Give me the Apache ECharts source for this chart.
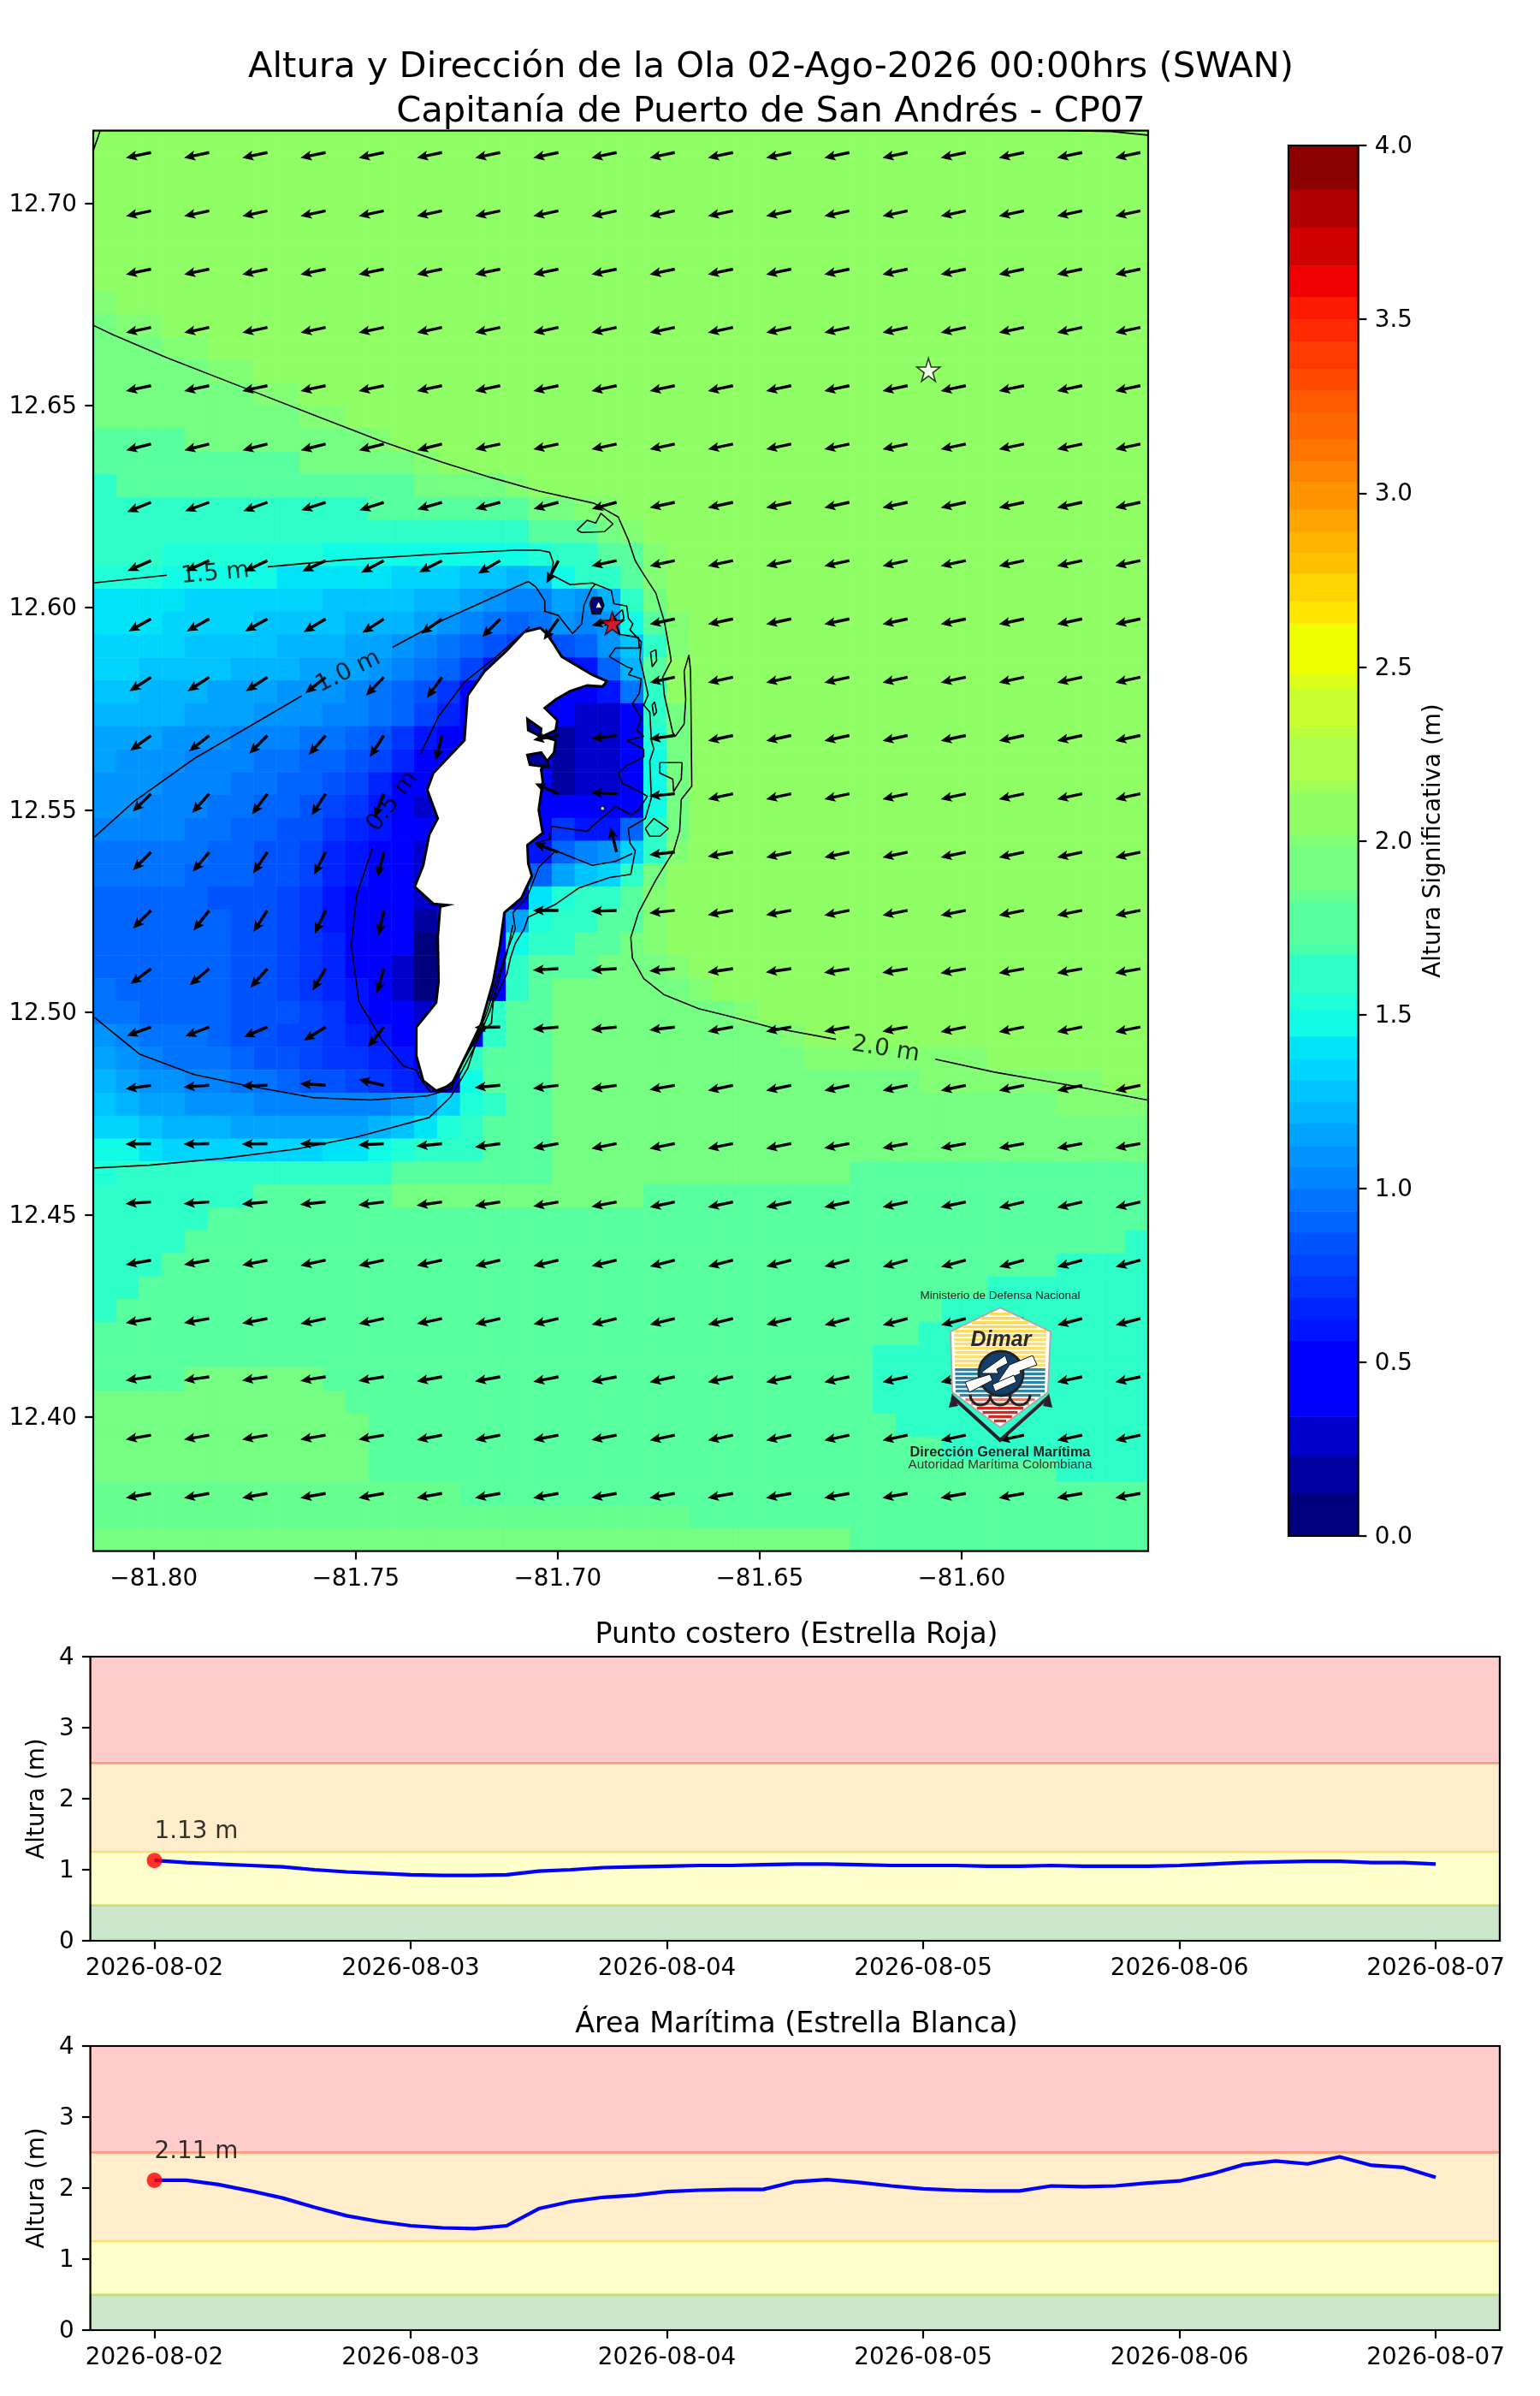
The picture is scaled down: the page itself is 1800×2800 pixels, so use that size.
<!DOCTYPE html>
<html><head><meta charset="utf-8">
<style>html,body{margin:0;padding:0;background:#fff}#c{width:1800px;height:2800px}</style>
<script src="https://cdn.jsdelivr.net/npm/echarts@6/dist/echarts.min.js"></script>
</head><body><div id="c"></div>
<script>
// ---------- colour scale of significant wave height (m) ----------
const levelLimits=[0,.124,.233,.344,.563,.624,.687,.749,.81,.874,.935,1,1.061,1.123,1.187,1.248,1.312,1.374,1.438,1.514,1.562,1.672,1.703,1.828,1.859,1.985,2.017,2.139,2.172,2.298,2.328,2.44,2.483,2.626,2.69,2.77,2.83,2.89,2.955,3.032,3.093,3.155,3.233,3.297,3.359,3.438,3.5,3.564,3.655,3.765,3.875,4];
const levelColors=['#00007f','#0000a0','#0000cc','#0000ff','#0014ff','#0024ff','#0034ff','#0044ff','#0054ff','#0064ff','#0074ff','#0084ff','#0094ff','#00a4ff','#00b4ff','#00c4ff','#00d4ff','#00e4f8','#10fce7','#1fffd8','#2effc8','#4affac','#58ff9e','#66ff90','#74ff82','#82ff74','#90ff66','#9eff58','#acff4a','#baff3a','#c8ff2e','#dcff1a','#f0ff00','#ffe600','#ffd400','#ffc000','#ffb400','#ffa400','#ff9400','#ff8400','#ff7600','#ff6800','#ff5a00','#ff4a00','#ff3a00','#ff2a00','#ff1a00','#f00000','#d00000','#b00000','#8b0000'];
const levelLetters='abcdefghijklmnopqrstuvwxyzA';
const heightRuns=[
"A46","A46","A46","A46","A46","A46","A46","z1 A45","y1 z2 A43","y3 z2 A41","y5 z2 A39","y7 z2 A37","y9 z2 A35",
"w4 y8 z1 A33","w9 y5 z1 A31","u1 w13 y4 z1 A27","u12 w7 y2 z2 A23","u19 w3 y1 z1 A22",
"u3 t7 s9 t1 u2 w2 z1 A21","t3 s5 r5 q3 p2 o1 p1 s1 u2 w1 z1 A21","r4 q6 p4 o2 n1 m1 l2 n1 m1 o1 u1 y1 A21",
"r3 q4 p4 o3 n1 m1 l1 k1 j1 k1 m1 l1 m1 s1 w1 z1 A20","q4 p4 o3 n2 m1 l1 k1 j1 i1 h1 d1 i1 j1 m1 p1 u1 z1 A20",
"q2 p4 o3 n3 m1 l1 k1 j1 h1 e1 d3 e1 j1 o1 w1 A21","p2 o3 n3 m3 l1 k1 j1 i1 g1 d6 e1 k1 u1 A21",
"o4 n3 m3 l2 k1 j1 h1 f1 d5 c2 d1 u1 y1 A20","n3 m3 l3 k2 j1 i1 g1 e1 d5 b1 c2 d1 t1 y1 A20",
"n1 m3 l3 k2 j2 i1 h1 f1 d6 b1 c2 d1 s1 y1 A20","m3 l3 k2 j2 i1 h1 f1 d7 b1 c2 d1 s1 y1 A20",
"m2 l3 k2 j2 i1 h1 g1 e1 d1 c1 d5 d4 s1 y1 A20","l4 k2 j2 i2 g1 f1 e1 d7 g1 e2 j1 u1 y1 A20",
"k5 j2 i2 h1 f1 e1 d2 c1 d4 e1 j1 l1 m1 q1 u1 z1 A20","k4 j3 i2 h1 f1 e1 d2 c1 d4 j1 n1 p1 q1 u1 y1 A21",
"j5 i3 h1 g1 e1 d3 c1 d4 r1 t1 u2 w1 z1 A21","j6 i2 h1 g1 e1 d3 b1 d3 n1 t1 u2 w2 z1 A21",
"j6 i2 h1 g1 f1 d3 a1 d3 s1 u2 w2 y1 z1 A21","j6 i2 h1 g1 f1 d2 c1 a1 d3 u1 w3 y3 z1 A20",
"k1 j5 i2 h1 g1 f1 e1 d1 c1 a1 d3 u1 w1 y6 z1 A19","k2 j4 i3 h1 g1 e1 d2 c1 d2 u1 w2 y8 z1 A17",
"m1 l1 k3 j1 i2 h2 g1 f1 e1 d4 u1 w2 y10 z1 A15","n1 m1 l1 k3 j1 i2 h1 g2 f1 e1 d2 u1 w3 y11 z8 A7",
"o1 n1 m2 l2 k2 j1 i2 h1 g1 f1 e1 c1 s1 w3 y16 z8 A2","p1 o1 n2 m3 l6 m1 n1 q1 t1 u1 w2 y22 z4",
"q2 p1 o3 n6 o1 p1 r1 t1 u1 w3 y26","s2 r1 q7 r2 s1 t1 u3 w3 y26","t1 u12 w7 y13 w13","u7 w6 y11 w22","u5 w41",
"u4 w41 u1","u3 w39 u4","u2 w37 u7","u1 w36 u9","w36 u10","w34 u12","w4 y6 w24 u12","y11 w23 u12","y12 w23 u11",
"y12 w25 u9","y12 w30 u4","x16 w30","x26 w20","y33 w13"];
// ---------- map extents and ticks ----------
const lonMin=-81.8150, lonMax=-81.5538, latMin=12.3668, latMax=12.7179;
const lonTicks=[-81.80,-81.75,-81.70,-81.65,-81.60];
const latTicks=[12.40,12.45,12.50,12.55,12.60,12.65,12.70];
// ---------- contours (lon, lat) ----------
const contour20a=[[-81.815,12.6698],[-81.8102,12.6675],[-81.7968,12.6618],[-81.7773,12.6542],[-81.7604,12.6476],[-81.7433,12.641],[-81.7287,12.636],[-81.7166,12.6322],[-81.7045,12.6288],[-81.691,12.6258],[-81.685,12.6224],[-81.6825,12.6167],[-81.6808,12.6116],[-81.6787,12.6082],[-81.6757,12.6036],[-81.6736,12.5966],[-81.6723,12.5894],[-81.6719,12.5869],[-81.674,12.5828],[-81.6736,12.5784],[-81.6715,12.5691],[-81.6709,12.5682],[-81.6687,12.5712],[-81.6683,12.5773],[-81.6687,12.5843],[-81.6675,12.5883],[-81.6671,12.5843],[-81.6668,12.5559],[-81.6694,12.5526],[-81.6698,12.5449],[-81.6713,12.5398],[-81.6757,12.5327],[-81.68,12.5246],[-81.6819,12.5185],[-81.6815,12.5134],[-81.6787,12.5083],[-81.6736,12.5043],[-81.6651,12.5009],[-81.6582,12.4992],[-81.6472,12.4963],[-81.6311,12.4933]];
const contour20b=[[-81.6065,12.4884],[-81.5919,12.4852],[-81.5741,12.4821],[-81.554,12.4783]];
const contour20c=[[-81.8133,12.7179],[-81.814,12.7158],[-81.815,12.713]];
const contour20d=[[-81.5735,12.7179],[-81.5629,12.7177],[-81.554,12.7168]];
const shoal1=[[-81.6952,12.6192],[-81.6927,12.6216],[-81.6906,12.6209],[-81.6893,12.6233],[-81.6863,12.6207],[-81.6884,12.6188],[-81.6941,12.6186],[-81.6952,12.6192]];
const shoal2=[[-81.677,12.589],[-81.6757,12.5896],[-81.6755,12.5869],[-81.6766,12.5854],[-81.677,12.589]];
const shoal3=[[-81.6766,12.5759],[-81.676,12.5767],[-81.6755,12.5742],[-81.6762,12.5733],[-81.6766,12.5759]];
const shoal4=[[-81.6747,12.5617],[-81.6692,12.5617],[-81.6694,12.5576],[-81.6713,12.5545],[-81.6715,12.5576],[-81.6747,12.5591],[-81.6747,12.5617]];
const shoal5=[[-81.6783,12.5454],[-81.6762,12.5479],[-81.6726,12.5454],[-81.6747,12.5435],[-81.6772,12.5435],[-81.6783,12.5454]];
const contour15a=[[-81.815,12.6061],[-81.7968,12.608]];
const contour15b=[[-81.7718,12.6101],[-81.753,12.6118],[-81.7287,12.6133],[-81.7105,12.6142],[-81.7045,12.6142],[-81.702,12.6137],[-81.7011,12.6112],[-81.7016,12.6082],[-81.7005,12.6076],[-81.6969,12.6057],[-81.6914,12.6061],[-81.6867,12.6042],[-81.6861,12.601],[-81.6829,12.6004],[-81.6825,12.5974],[-81.6814,12.596],[-81.6821,12.5945],[-81.6793,12.5915],[-81.6797,12.5875],[-81.6789,12.5843],[-81.6776,12.5784],[-81.6787,12.5759],[-81.6772,12.5742],[-81.6768,12.5672],[-81.6762,12.5651],[-81.6772,12.5621],[-81.6768,12.553],[-81.6783,12.5479],[-81.6825,12.5454],[-81.6821,12.5418],[-81.6808,12.5399],[-81.6819,12.5341],[-81.6872,12.5333],[-81.6948,12.5307],[-81.7005,12.5267],[-81.7073,12.5235],[-81.7083,12.5206],[-81.7105,12.517],[-81.7117,12.5134],[-81.7126,12.5094],[-81.716,12.5024],[-81.7164,12.4973],[-81.7196,12.4943],[-81.7223,12.4861],[-81.7265,12.4791],[-81.7318,12.474],[-81.7403,12.4717],[-81.75,12.4691],[-81.7646,12.4662],[-81.7829,12.4639],[-81.8011,12.4622],[-81.815,12.4615]];
const contour10a=[[-81.8148,12.5432],[-81.8049,12.5521],[-81.79,12.5627],[-81.774,12.572],[-81.7634,12.5782]];
const contour10b=[[-81.7409,12.5902],[-81.7287,12.5968],[-81.7073,12.6065],[-81.7054,12.6051],[-81.7032,12.6017],[-81.7032,12.5991],[-81.6999,12.5981],[-81.6978,12.5955],[-81.6963,12.5936],[-81.6941,12.5959],[-81.6935,12.6006],[-81.6916,12.6048],[-81.6906,12.6059]];
const contour10c=[[-81.6884,12.5955],[-81.684,12.5995],[-81.6836,12.5974],[-81.6853,12.5955],[-81.6846,12.5934],[-81.68,12.5926],[-81.6798,12.59],[-81.6857,12.59],[-81.6872,12.5879],[-81.6829,12.5854],[-81.6815,12.5849],[-81.6825,12.5835],[-81.6793,12.5824],[-81.6798,12.5788],[-81.6815,12.5763],[-81.6793,12.5727],[-81.6804,12.5697],[-81.6787,12.5682],[-81.6829,12.5672],[-81.6787,12.565],[-81.6787,12.5631],[-81.6829,12.561],[-81.685,12.5591],[-81.684,12.5566],[-81.6808,12.5551],[-81.6778,12.5534],[-81.68,12.55],[-81.6819,12.5488],[-81.6857,12.5509],[-81.6914,12.546],[-81.6927,12.5447],[-81.7016,12.546],[-81.702,12.5428],[-81.7054,12.5418]];
const contour10d=[[-81.7005,12.5399],[-81.6914,12.5363],[-81.6857,12.5373],[-81.6815,12.5392]];
const contour10e=[[-81.7005,12.5399],[-81.7047,12.5358],[-81.7075,12.5286],[-81.7111,12.5246],[-81.7105,12.5206],[-81.7132,12.5134],[-81.7153,12.5075],[-81.7174,12.5003],[-81.7202,12.4933],[-81.7244,12.4861],[-81.7265,12.481],[-81.7323,12.4793],[-81.7464,12.4783],[-81.7604,12.4789],[-81.7782,12.4821],[-81.79,12.4846],[-81.8036,12.4897],[-81.8148,12.4988]];
const contour05a=[[-81.7069,12.5953],[-81.7147,12.5883],[-81.7231,12.5816],[-81.7295,12.5731],[-81.734,12.5638]];
const contour05b=[[-81.7458,12.5407],[-81.7498,12.5289],[-81.7511,12.5164],[-81.7492,12.5026],[-81.7435,12.4931],[-81.7382,12.4867],[-81.735,12.4857],[-81.7337,12.4831],[-81.7316,12.4804],[-81.7259,12.481]];
const contour05c=[[-81.7111,12.5216],[-81.7126,12.5145],[-81.7147,12.5075],[-81.7168,12.5003],[-81.7202,12.4922],[-81.7244,12.4842],[-81.728,12.4814]];
const contourLines=[contour20a,contour20b,contour20c,contour20d,shoal1,shoal2,shoal3,shoal4,shoal5,contour15a,contour15b,contour10a,contour10b,contour10c,contour10d,contour10e,contour05a,contour05b,contour05c];
const contourLabelText=['1.5 m','1.0 m','0.5 m','2.0 m'];
const contourLabelLon=[-81.7848,-81.7519,-81.7409,-81.6188];
const contourLabelLat=[12.6084,12.5842,12.5521,12.4908];
const contourLabelTilt=[5,26,53,-9];
// ---------- land ----------
const island=[[-81.7043,12.595],[-81.7026,12.5934],[-81.7009,12.5909],[-81.699,12.5879],[-81.6948,12.5854],[-81.6914,12.5834],[-81.6878,12.5818],[-81.6889,12.5805],[-81.6927,12.5808],[-81.6969,12.5794],[-81.7005,12.5773],[-81.7032,12.5752],[-81.7001,12.5722],[-81.7005,12.5697],[-81.7037,12.5682],[-81.7005,12.5672],[-81.7009,12.5642],[-81.7026,12.5621],[-81.7041,12.56],[-81.7037,12.557],[-81.7047,12.55],[-81.7037,12.5443],[-81.7075,12.5413],[-81.7073,12.5368],[-81.7064,12.5337],[-81.709,12.5282],[-81.7132,12.5246],[-81.7143,12.5166],[-81.716,12.5075],[-81.7189,12.4973],[-81.7223,12.4902],[-81.7263,12.4821],[-81.7301,12.4806],[-81.7333,12.4831],[-81.735,12.4892],[-81.735,12.4963],[-81.7301,12.5024],[-81.7295,12.5075],[-81.7297,12.5185],[-81.7291,12.5261],[-81.7274,12.5265],[-81.7308,12.5268],[-81.7354,12.531],[-81.7333,12.5363],[-81.7318,12.5439],[-81.7297,12.5479],[-81.7323,12.555],[-81.7308,12.5591],[-81.7231,12.5672],[-81.7223,12.5783],[-81.7181,12.5843],[-81.7126,12.5894],[-81.7083,12.594]];
const lagoonNorth=[[-81.7075,12.5725],[-81.7041,12.5701],[-81.7043,12.5682],[-81.7073,12.5697]];
const lagoonSouth=[[-81.7075,12.5636],[-81.7041,12.5642],[-81.7026,12.5621],[-81.7022,12.5606],[-81.7069,12.5612]];
const reefRing=[[-81.692,12.601],[-81.6914,12.6025],[-81.6893,12.6025],[-81.6886,12.6006],[-81.6895,12.5985],[-81.6914,12.5985]];
const reefCay=[[-81.6906,12.6],[-81.6899,12.6015],[-81.6891,12.6]];
const bayCay=[-81.6889,12.5504];
// ---------- markers ----------
const redStar=[-81.6865,12.5962];
const whiteStar=[-81.6082,12.6588];
// ---------- wave direction: degrees below due west, one row per arrow row, null over land ----------
const arrowFirstLon=-81.8007, arrowFirstLat=12.7125, arrowStep=0.01441;
const arrowAngles=[
[12,12,12,12,12,12,12,12,12,12,12,12,12,12,12,12,12,12],
[12,12,12,12,12,12,12,12,12,12,12,12,12,12,12,12,12,12],
[12,12,12,12,12,12,12,12,12,12,12,12,12,12,12,12,12,12],
[12,12,12,12,12,12,12,12,12,12,12,12,12,12,12,12,12,12],
[12,12,12,12,12,12,12,12,12,12,12,12,12,12,12,12,12,12],
[14,14,14,14,14,14,12,12,12,12,12,12,12,12,12,12,12,12],
[22,20,20,18,18,16,15,15,15,12,12,12,12,12,12,12,12,12],
[24,24,25,25,28,27,30,62,12,12,12,12,12,12,12,12,12,12],
[29,29,29,31,33,35,45,55,15,12,12,12,12,12,12,12,12,12],
[33,33,33,38,46,54,null,null,null,12,12,12,12,12,12,12,12,12],
[36,38,45,49,57,76,null,10,7,8,12,12,12,12,12,12,12,12],
[44,48,53,57,69,null,null,-24,-3,5,12,12,12,12,12,12,12,12],
[45,50,56,63,76,null,null,-20,-76,6,10,12,12,12,12,12,12,12],
[45,52,57,65,78,null,null,0,2,6,10,10,11,11,11,11,11,11],
[37,40,48,59,74,null,null,3,3,5,8,8,9,9,10,10,10,10],
[20,21,23,32,52,null,1,5,6,7,10,10,10,10,11,11,11,11],
[8,4,1,-4,-13,null,5,7,8,10,12,12,12,12,12,12,12,12],
[1,1,1,0,3,6,8,10,11,11,11,11,10,10,10,10,10,10],
[4,4,5,6,7,8,9,10,11,12,12,12,12,12,12,13,13,13],
[10,10,11,12,12,12,13,13,13,14,14,14,14,15,15,15,15,15],
[10,10,11,12,12,12,13,13,14,14,14,14,15,15,15,15,15,15],
[8,8,8,9,9,10,10,11,11,12,12,12,12,12,12,12,12,12],
[10,10,10,10,10,11,11,11,11,12,12,12,12,12,12,12,12,12],
[10,10,10,10,10,10,10,10,10,10,10,10,10,10,10,10,10,10]];
// ---------- time series (x in days since 2026-08-02, 3-hourly) ----------
const dayLabels=['2026-08-02','2026-08-03','2026-08-04','2026-08-05','2026-08-06','2026-08-07'];
const dayTicks=[0,1,2,3,4,5];
const coastValues=[1.13,1.10,1.08,1.06,1.04,1.00,.97,.95,.93,.92,.92,.93,.98,1.00,1.03,1.04,1.05,1.06,1.06,1.07,1.08,1.08,1.07,1.06,1.06,1.06,1.05,1.05,1.06,1.05,1.05,1.05,1.06,1.08,1.10,1.11,1.12,1.12,1.10,1.10,1.08];
const openValues=[2.11,2.11,2.05,1.96,1.86,1.73,1.61,1.53,1.47,1.44,1.43,1.47,1.71,1.81,1.87,1.90,1.95,1.97,1.98,1.98,2.09,2.12,2.08,2.03,1.99,1.97,1.96,1.96,2.03,2.02,2.03,2.07,2.10,2.20,2.33,2.38,2.34,2.44,2.32,2.29,2.15];
const riskLimits=[0,.5,1.25,2.5,4];
const riskColors=['0,128,0','255,255,0','255,165,0','255,0,0'];
const font='"DejaVu Sans"';

// ---------- build ----------
const heatRows=heightRuns.map(r=>{let s='';r.split(' ').forEach(t=>{s+=t[0].repeat(+t.slice(1));});return s;});
const nCols=46,nRows=heatRows.length;
const heatData=[];
heatRows.forEach((row,j)=>{for(let i=0;i<nCols;i++){const k=levelLetters.indexOf(row[i]);heatData.push([i,j,(levelLimits[k]+levelLimits[k+1])/2]);}});
const pieces=levelColors.map((c,i)=>({min:levelLimits[i],max:levelLimits[i+1],color:c}));
const arrowData=[];
arrowAngles.forEach((row,j)=>row.forEach((a,i)=>{if(a!==null)arrowData.push([arrowFirstLon+i*arrowStep,arrowFirstLat-j*arrowStep,a]);}));
const times=coastValues.map((_,i)=>i/8);

function polySeries(points,fill,stroke,lw,z){
  return {type:'custom',coordinateSystem:'cartesian2d',xAxisIndex:1,yAxisIndex:1,z,silent:true,clip:true,
    data:points,encode:{x:0,y:1},
    renderItem:(p,api)=>{ if(p.dataIndex!==0) return null;
      return {type:'polygon',shape:{points:points.map(q=>api.coord(q))},style:{fill,stroke,lineWidth:lw}}; }};
}
const starPath='path://M50 0 L61 35 L98 35 L68 57 L79 91 L50 70 L21 91 L32 57 L2 35 L39 35 Z';
const series=[];
series.push({type:'heatmap',xAxisIndex:0,yAxisIndex:0,data:heatData,z:1,silent:true,progressive:0,emphasis:{disabled:true}});
series.push(polySeries(island,'#ffffff','#000000',3,2));
series.push(polySeries(lagoonNorth,'#0000a0','#000000',3,3));
series.push(polySeries(lagoonSouth,'#0000a0','#000000',3,3));
series.push(polySeries(reefRing,'#00007f','#000000',2,3));
series.push(polySeries(reefCay,'#ffffff','#000000',.5,3));
contourLines.forEach(l=>series.push({type:'line',xAxisIndex:1,yAxisIndex:1,data:l,showSymbol:false,symbol:'none',silent:true,z:4,clip:true,lineStyle:{color:'#000',width:1.6}}));
series.push({type:'scatter',xAxisIndex:1,yAxisIndex:1,z:4,silent:true,symbol:'circle',symbolSize:5,data:[bayCay],itemStyle:{color:'#fff',borderColor:'#000',borderWidth:1.5}});
series.push({type:'custom',coordinateSystem:'cartesian2d',xAxisIndex:1,yAxisIndex:1,z:5,silent:true,clip:true,data:arrowData,encode:{x:0,y:1},
  renderItem:(p,api)=>{
    const t=api.coord([api.value(0),api.value(1)]),a=api.value(2)*Math.PI/180;
    const ux=-Math.cos(a),uy=Math.sin(a),nx=-uy,ny=ux;
    const L=30,H=13,HA=11,W=1.7,HW=5.8;
    const pt=(s,n)=>[t[0]+ux*s+nx*n,t[1]+uy*s+ny*n];
    return {type:'polygon',shape:{points:[pt(0,W),pt(L-HA,W),pt(L-H,HW),pt(L,0),pt(L-H,-HW),pt(L-HA,-W),pt(0,-W)]},style:{fill:'#000'}};
  }});
series.push({type:'scatter',xAxisIndex:1,yAxisIndex:1,z:6,silent:true,symbolSize:1,itemStyle:{color:'rgba(0,0,0,0)'},
  data:contourLabelText.map((t,i)=>({value:[contourLabelLon[i],contourLabelLat[i]],label:{show:true,formatter:t,rotate:contourLabelTilt[i],position:'inside',align:'center',verticalAlign:'middle',fontFamily:font,fontSize:27.8,color:'#000'}}))});
series.push({type:'scatter',xAxisIndex:1,yAxisIndex:1,z:7,silent:true,symbol:starPath,symbolSize:27,data:[redStar],itemStyle:{color:'#ff0000',borderColor:'#000',borderWidth:1.5}});
series.push({type:'scatter',xAxisIndex:1,yAxisIndex:1,z:7,silent:true,symbol:starPath,symbolSize:27,data:[whiteStar],itemStyle:{color:'#ffffff',borderColor:'#000',borderWidth:1.5}});
// colour bar
const colorbarData=levelColors.map((c,i)=>[levelLimits[i],levelLimits[i+1],i]);
series.push({type:'custom',coordinateSystem:'cartesian2d',xAxisIndex:4,yAxisIndex:4,z:2,silent:true,clip:true,data:colorbarData,encode:{y:[0,1]},
  renderItem:(p,api)=>{
    const a=api.coord([0,api.value(0)]),b=api.coord([1,api.value(1)]);
    return {type:'rect',shape:{x:a[0],y:b[1],width:b[0]-a[0],height:a[1]-b[1]+.6},style:{fill:levelColors[api.value(2)]}};
  }});
// two time-series panels
function panel(values,axis){
  const bands=riskColors.map((c,i)=>[
    {yAxis:riskLimits[i],itemStyle:{color:'rgba('+c+',0.2)',borderColor:'rgba('+c+',0.25)',borderWidth:2.6}},
    {yAxis:riskLimits[i+1]}]);
  series.push({type:'line',xAxisIndex:axis,yAxisIndex:axis,z:3,silent:true,showSymbol:false,symbol:'none',
    data:values.map((v,i)=>[times[i],v]),lineStyle:{color:'#0000ff',width:4.2},
    markArea:{silent:true,z:1,data:bands}});
  series.push({type:'scatter',xAxisIndex:axis,yAxisIndex:axis,z:4,silent:true,symbol:'circle',symbolSize:18,
    data:[[times[0],values[0]]],itemStyle:{color:'#ff0000'},
    label:{show:true,formatter:values[0].toFixed(2)+' m',position:[9,-24],align:'left',verticalAlign:'middle',fontFamily:font,fontSize:27.8,color:'#000'}});
}
panel(coastValues,2);panel(openValues,3);

const axisBase={axisLine:{show:false,onZero:false},splitLine:{show:false},
  axisTick:{show:true,length:9.7,lineStyle:{color:'#000',width:2.2}},
  axisLabel:{show:true,margin:19,fontFamily:font,fontSize:27.8,color:'#000'}};
const yLabelBase=Object.assign({},axisBase.axisLabel,{verticalAlign:'top',lineHeight:4});
const timeAxis=g=>Object.assign({},axisBase,{type:'value',gridIndex:g,min:-.25,max:5.25,
  axisTick:Object.assign({},axisBase.axisTick,{customValues:dayTicks}),
  axisLabel:Object.assign({},axisBase.axisLabel,{customValues:dayTicks,formatter:v=>dayLabels[Math.round(v)]})});
const panelY=g=>Object.assign({},axisBase,{type:'value',gridIndex:g,min:0,max:4,interval:1,axisLabel:yLabelBase,name:'Altura (m)',nameLocation:'middle',nameGap:46,nameRotate:90,nameTextStyle:{fontFamily:font,fontSize:27.8,color:'#000'}});

// ---------- logo (decoration, not data) ----------
const logo=[];
const shield=[[1169,1528],[1111,1556],[1113,1627],[1169,1668],[1225,1627],[1228,1556]];
logo.push({type:'polygon',z:30,shape:{points:shield},style:{fill:'#ffffff',stroke:'#a8a8a8',lineWidth:2}});
const halfW=y=>y<1556?58*(y-1528)/28:y<1627?57-2*(y-1556)/71:55*(1668-y)/41;
for(let y=1534;y<1663;y+=5){
  const hw=halfW(y+1.5)-3;
  const col=y<1598?(y<1556?'#ffd955':'#ffdf6a'):y<1630?'#2f86a8':y<1640?'#e8826a':'#cc2a22';
  logo.push({type:'rect',z:31,shape:{x:1169-hw,y:y,width:2*hw,height:3.2},style:{fill:col}});
}
logo.push({type:'circle',z:32,shape:{cx:1170,cy:1605,r:26},style:{fill:'#123f6b',stroke:'#222',lineWidth:3}});
[[[1148,1603],[1175,1584],[1178,1593],[1165,1600],[1167,1605],[1148,1605]],[[1128,1615],[1157,1606],[1160,1613],[1133,1627]],[[1180,1595],[1207,1584],[1212,1595],[1192,1602],[1193,1605],[1165,1617]],[[1160,1618],[1185,1607],[1188,1615],[1163,1626]]]
 .forEach(p=>logo.push({type:'polygon',z:33,shape:{points:p},style:{fill:'#ffffff',stroke:'#111',lineWidth:1}}));
[1146,1169,1192].forEach(cx=>logo.push({type:'arc',z:33,shape:{cx,cy:1630,r:12,startAngle:0,endAngle:Math.PI},style:{fill:null,stroke:'#222',lineWidth:3}}));
logo.push({type:'polyline',z:34,shape:{points:[[1113,1632],[1169,1683],[1226,1632]]},style:{fill:null,stroke:'#2a1f2d',lineWidth:4}});
logo.push({type:'polygon',z:34,shape:{points:[[1113,1628],[1120,1643],[1109,1645]]},style:{fill:'#2a1f2d'}});
logo.push({type:'polygon',z:34,shape:{points:[[1226,1628],[1219,1643],[1230,1645]]},style:{fill:'#2a1f2d'}});
const logoText=(txt,x,y,f,c)=>({type:'text',z:35,x,y,style:{text:txt,x:0,y:0,align:'center',verticalAlign:'middle',font:f,fill:c}});
logo.push(logoText('Ministerio de Defensa Nacional',1169,1514,'13.5px "Liberation Sans"','#222'));
logo.push(logoText('Dimar',1170,1566,'italic bold 25px "Liberation Sans"','#2a2a2a'));
logo.push(logoText('Dirección General Marítima',1169,1698,'bold 16.3px "Liberation Sans"','#222'));
logo.push(logoText('Autoridad Marítima Colombiana',1169,1712,'15.3px "Liberation Sans"','#333'));
// axes frames
const frames=[[109,152.7,1233,1660],[1506,170,81.7,1625],[105.6,1936,1647.4,332],[105.6,2391,1647.4,332]]
  .map(r=>({type:'rect',z:40,shape:{x:r[0],y:r[1],width:r[2],height:r[3]},style:{fill:null,stroke:'#000',lineWidth:2.2}}));

const option={
  animation:false,backgroundColor:'#ffffff',
  title:[
    {text:'Altura y Dirección de la Ola 02-Ago-2026 00:00hrs (SWAN)\nCapitanía de Puerto de San Andrés - CP07',left:896,top:48,textAlign:'center',textStyle:{fontFamily:font,fontWeight:'normal',fontSize:41.67,lineHeight:51.8,color:'#000'}},
    {text:'Punto costero (Estrella Roja)',left:926,top:1890,textAlign:'center',textStyle:{fontFamily:font,fontWeight:'normal',fontSize:33.3,color:'#000'}},
    {text:'Área Marítima (Estrella Blanca)',left:926,top:2345,textAlign:'center',textStyle:{fontFamily:font,fontWeight:'normal',fontSize:33.3,color:'#000'}}],
  grid:[
    {left:109,top:152.7,width:1233,height:1660},
    {left:109,top:152.7,width:1233,height:1660},
    {left:105.6,top:1936,width:1647.4,height:332},
    {left:105.6,top:2391,width:1647.4,height:332},
    {left:1506,top:170,width:81.7,height:1625}],
  xAxis:[
    {type:'category',gridIndex:0,show:false,data:Array.from({length:nCols},(_,i)=>i)},
    Object.assign({},axisBase,{type:'value',gridIndex:1,min:lonMin,max:lonMax,
      axisTick:Object.assign({},axisBase.axisTick,{customValues:lonTicks}),
      axisLabel:Object.assign({},axisBase.axisLabel,{customValues:lonTicks,formatter:v=>'\u2212'+Math.abs(v).toFixed(2)})}),
    timeAxis(2),timeAxis(3),
    {type:'value',gridIndex:4,min:0,max:1,show:false}],
  yAxis:[
    {type:'category',gridIndex:0,show:false,inverse:true,data:Array.from({length:nRows},(_,i)=>i)},
    Object.assign({},axisBase,{type:'value',gridIndex:1,min:latMin,max:latMax,
      axisTick:Object.assign({},axisBase.axisTick,{customValues:latTicks}),
      axisLabel:Object.assign({},yLabelBase,{customValues:latTicks,formatter:v=>v.toFixed(2)})}),
    panelY(2),panelY(3),
    Object.assign({},axisBase,{type:'value',gridIndex:4,min:0,max:4,interval:.5,position:'right',
      axisLabel:Object.assign({},yLabelBase,{formatter:v=>v.toFixed(1)}),
      name:'Altura Significativa (m)',nameLocation:'middle',nameGap:74.5,nameRotate:90,nameTextStyle:{fontFamily:font,fontSize:27.8,color:'#000'}})],
  visualMap:[{type:'piecewise',show:false,seriesIndex:0,dimension:2,pieces}],
  graphic:{elements:logo.concat(frames)},
  series
};
const chart=echarts.init(document.getElementById('c'),null,{renderer:'canvas',width:1800,height:2800});
chart.setOption(option);
</script></body></html>
